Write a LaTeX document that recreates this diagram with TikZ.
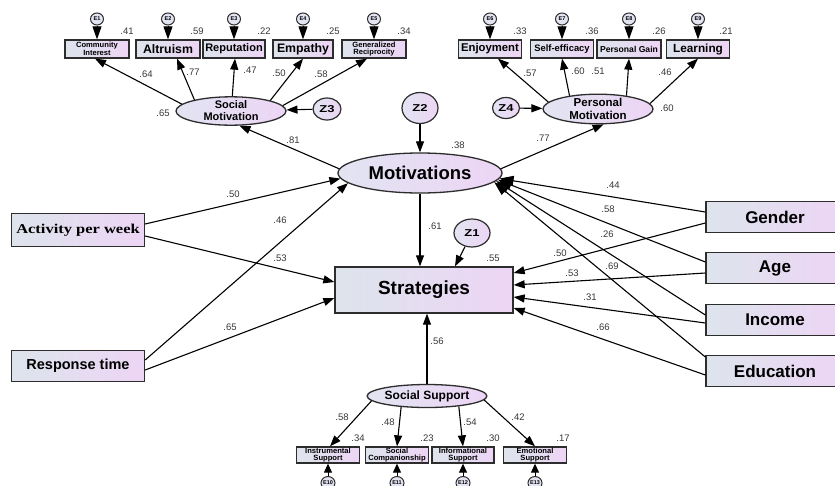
\documentclass[tikz,border=0pt]{standalone}
\usepackage{fontspec}
\setmainfont{Liberation Sans}
\newfontfamily\tnr{Liberation Serif}
\usepackage{graphicx}
\usetikzlibrary{shapes.geometric,arrows.meta,calc}

\definecolor{bxL}{RGB}{221,228,236}
\definecolor{bxR}{RGB}{237,213,245}
\definecolor{elL}{RGB}{226,228,242}
\definecolor{elR}{RGB}{237,213,245}
\definecolor{edgec}{RGB}{45,45,45}
\definecolor{numc}{RGB}{55,55,55}
\newcommand{\hs}[2]{\scalebox{#1}[1]{#2}}

\tikzset{
 obs/.style={draw=edgec, line width=1.3pt, left color=bxL, right color=bxR, inner sep=0pt, align=center, font=\bfseries},
 lat/.style={ellipse, draw=edgec, line width=1.3pt, left color=elL, right color=elR, inner sep=0pt, align=center, font=\bfseries},
 errc/.style={ellipse, draw=edgec, line width=1pt, fill=elL, inner sep=0pt, minimum width=13pt, minimum height=12pt, font=\bfseries\fontsize{5.5}{6}\selectfont},
 zc/.style={ellipse, draw=edgec, line width=1.2pt, left color=elL, right color=elR, inner sep=0pt, font=\bfseries\fontsize{10}{10}\selectfont},
 numl/.style={text=numc, font=\fontsize{9.5}{10}\selectfont, inner sep=0pt},
 arr/.style={draw, line width=1.1pt, -{Triangle[length=11pt,width=8pt]}},
 bigarr/.style={draw, line width=1.1pt, -{Triangle[length=14pt,width=10pt]}},
 errarr/.style={draw, line width=1pt, -{Triangle[length=13pt,width=9pt]}},
 errarrb/.style={draw, line width=1pt, -{Triangle[length=9pt,width=8pt]}},
 small/.style={font=\bfseries\fontsize{7.6}{7.8}\selectfont},
 mid/.style={font=\bfseries\fontsize{12.3}{13}\selectfont},
 big/.style={font=\bfseries\fontsize{17}{18}\selectfont},
}

\begin{document}
\begin{tikzpicture}[x=1pt,y=-1pt]
\fill[white] (0,0) rectangle (835,485);
\useasboundingbox (0,0) rectangle (835,485);

% ---------- top-left indicators ----------
\node[obs, small, minimum width=64pt, minimum height=18pt] (ci) at (97,49) {Community\\Interest};
\node[obs, mid, minimum width=64pt, minimum height=18pt] (alt) at (168,49) {Altruism};
\node[obs, font=\bfseries\fontsize{11}{12}\selectfont, minimum width=62pt, minimum height=18pt] (rep) at (234,49) {Reputation};
\node[obs, mid, minimum width=60pt, minimum height=18pt] (emp) at (303,49) {Empathy};
\node[obs, small, minimum width=64pt, minimum height=18pt] (gr) at (374,49) {Generalized\\Reciprocity};

\node[errc] (e1) at (97,19) {E1};
\node[errc] (e2) at (168,19) {E2};
\node[errc] (e3) at (234,19) {E3};
\node[errc] (e4) at (303,19) {E4};
\node[errc] (e5) at (374,19) {E5};

% ---------- top-right indicators ----------
\node[obs, font=\bfseries\fontsize{11.3}{12}\selectfont, minimum width=63pt, minimum height=18pt] (enj) at (490,49) {Enjoyment};
\node[obs, font=\bfseries\fontsize{9.4}{10}\selectfont, minimum width=63pt, minimum height=18pt] (se) at (562,49) {Self-efficacy};
\node[obs, font=\bfseries\fontsize{8.6}{9}\selectfont, minimum width=64pt, minimum height=18pt] (pg) at (629,49) {Personal Gain};
\node[obs, font=\bfseries\fontsize{11.8}{12}\selectfont, minimum width=63pt, minimum height=18pt] (lea) at (698,49) {Learning};

\node[errc] (e6) at (490,19) {E6};
\node[errc] (e7) at (562,19) {E7};
\node[errc] (e8) at (629,19) {E8};
\node[errc] (e9) at (698,19) {E9};

% ---------- latent variables ----------
\node[lat, font=\bfseries\fontsize{11}{12}\selectfont, minimum width=110pt, minimum height=28pt] (sm) at (231,111) {Social\\Motivation};
\node[lat, font=\bfseries\fontsize{11.5}{12.5}\selectfont, minimum width=110pt, minimum height=26pt] (pm) at (598,109) {Personal\\Motivation};
\node[lat, font=\bfseries\fontsize{18.5}{19}\selectfont, minimum width=164pt, minimum height=40pt] (mot) at (420,173) {Motivations};
\node[lat, font=\bfseries\fontsize{12}{13}\selectfont, minimum width=110pt, minimum height=23pt] (ss) at (427,396) {Social Support};

\node[zc, minimum width=28pt, minimum height=22pt] (z3) at (327,109) {\hs{1.3}{Z3}};
\node[zc, minimum width=27pt, minimum height=21pt] (z4) at (506,108) {\hs{1.3}{Z4}};
\node[zc, minimum width=36pt, minimum height=31pt] (z2) at (420,108) {\hs{1.3}{Z2}};
\node[zc, minimum width=36pt, minimum height=28pt] (z1) at (472,233) {\hs{1.3}{Z1}};

% ---------- central / exogenous boxes ----------
\node[obs, font=\bfseries\fontsize{19}{20}\selectfont, minimum width=178pt, minimum height=46pt] (strat) at (424,290) {Strategies};
\node[obs, font=\tnr\bfseries\fontsize{13.5}{14}\selectfont, minimum width=133pt, minimum height=33pt] (act) at (78,230) {\hs{1.22}{Activity per week}};
\node[obs, font=\bfseries\fontsize{14.5}{15}\selectfont, minimum width=133pt, minimum height=31pt] (resp) at (78,366) {Response time};
\node[obs, big, minimum width=138pt, minimum height=31pt] (gender) at (775,217) {Gender};
\node[obs, big, minimum width=138pt, minimum height=31pt] (age) at (775,268) {Age};
\node[obs, big, minimum width=138pt, minimum height=31pt] (income) at (775,320) {Income};
\node[obs, big, minimum width=138pt, minimum height=31pt] (edu) at (775,371) {Education};

% ---------- bottom indicators ----------
\node[obs, small, minimum width=63pt, minimum height=16pt] (is) at (328,455) {Instrumental\\Support};
\node[obs, small, minimum width=63pt, minimum height=16pt] (sc) at (397,455) {Social\\Companionship};
\node[obs, small, minimum width=62pt, minimum height=16pt] (inf) at (463,455) {Informational\\Support};
\node[obs, small, minimum width=63pt, minimum height=16pt] (emo) at (535,455) {Emotional\\Support};

\node[errc, minimum width=14pt, minimum height=13pt] (e10) at (328,483) {E10};
\node[errc, minimum width=14pt, minimum height=13pt] (e11) at (397,483) {E11};
\node[errc, minimum width=14pt, minimum height=13pt] (e12) at (463,483) {E12};
\node[errc, minimum width=14pt, minimum height=13pt] (e13) at (535,483) {E13};

% ---------- error arrows ----------
\foreach \e/\b in {e1/ci,e2/alt,e3/rep,e4/emp,e5/gr,e6/enj,e7/se,e8/pg,e9/lea}
  \draw[errarr] (\e) -- (\b.north);
\foreach \e/\b in {e10/is,e11/sc,e12/inf,e13/emo}
  \draw[errarrb] (\e) -- (\b.south);

% ---------- measurement arrows ----------
\draw[arr] (sm.172) -- ($(ci.south)+(-2,0)$);
\draw[arr] (sm.163) -- ($(alt.south)+(9,0)$);
\draw[arr] (sm.85) -- ($(rep.south)+(1,0)$);
\draw[arr] (sm.15) -- (emp.south);
\draw[arr] (sm.6) -- ($(gr.south)+(-7,0)$);

\draw[arr] (pm.172) -- ($(enj.south)+(8,0)$);
\draw[arr] (pm.155) -- (se.south);
\draw[arr] (pm.25) -- (pg.south);
\draw[arr] (pm.6) -- (lea.south);

\draw[arr] (z3) -- (sm);
\draw[arr] (z4) -- (pm);
\draw[arr] (z2) -- (mot);
\draw[arr] (z1) -- ($(strat.north)+(31,0)$);

\draw[arr] (mot.177) -- (sm.300);
\draw[arr] (mot.3) -- (pm.290);
\draw[arr] (mot.south) -- (mot.south |- strat.north);

\draw[arr] ($(act.east)+(0,-6)$) -- (mot.184);
\draw[arr] ($(act.east)+(0,6)$) -- ($(strat.west)+(0,-8)$);
\draw[arr] ($(resp.east)+(0,-6)$) -- (mot.188);
\draw[arr] ($(resp.east)+(0,4)$) -- ($(strat.west)+(0,8)$);

\draw[bigarr] ($(gender.west)+(0,-5)$) -- (mot.356);
\draw[bigarr] ($(age.west)+(0,-6)$) -- (mot.355);
\draw[bigarr] ($(income.west)+(0,-5)$) -- (mot.354);
\draw[bigarr] ($(edu.west)+(0,-14)$) -- (mot.353);
\draw[arr] ($(gender.west)+(0,6)$) -- ($(strat.east)+(0,-17)$);
\draw[arr] ($(age.west)+(0,5)$) -- ($(strat.east)+(0,-5)$);
\draw[arr] ($(income.west)+(0,3)$) -- ($(strat.east)+(0,7)$);
\draw[arr] ($(edu.west)+(0,4)$) -- ($(strat.east)+(0,18)$);

\draw[arr] (ss.north) -- (ss.north |- strat.south);
\draw[arr] (ss.185) -- ($(is.north)+(2,0)$);
\draw[arr] (ss.203) -- (sc.north);
\draw[arr] (ss.342) -- (inf.north);
\draw[arr] (ss.356) -- (emo.north);

% ---------- numeric labels ----------
\node[numl] (r1) at (127,31) {.41};
\node[numl] (r2) at (197,31) {.59};
\node[numl] (r3) at (264,31) {.22};
\node[numl] (r4) at (333,31) {.25};
\node[numl] (r5) at (404,31) {.34};
\node[numl] (r6) at (520,31) {.33};
\node[numl] (r7) at (592,31) {.36};
\node[numl] (r8) at (659,31) {.26};
\node[numl] (r9) at (726,31) {.21};

\node[numl] (l1) at (146,74) {.64};
\node[numl] (l2) at (193,72) {.77};
\node[numl] (l3) at (250,70) {.47};
\node[numl] (l4) at (279,73) {.50};
\node[numl] (l5) at (321,74) {.58};
\node[numl] (l6) at (530,73) {.57};
\node[numl] (l7) at (578,71) {.60};
\node[numl] (l8) at (598,71) {.51};
\node[numl] (l9) at (665,72) {.46};

\node[numl] (rsm) at (163,113) {.65};
\node[numl] (rpm) at (667,108) {.60};
\node[numl] (p81) at (293,140) {.81};
\node[numl] (rmot) at (458,145) {.38};
\node[numl] (p77) at (543,138) {.77};

\node[numl] (p50a) at (233,194) {.50};
\node[numl] (p46) at (280,220) {.46};
\node[numl] (p53a) at (280,258) {.53};
\node[numl] (p65) at (230,327) {.65};

\node[numl] (p61) at (435,226) {.61};
\node[numl] (rstr) at (493,258) {.55};

\node[numl] (p44) at (613,185) {.44};
\node[numl] (p58) at (608,209) {.58};
\node[numl] (p26) at (607,234) {.26};
\node[numl] (p69) at (612,266) {.69};
\node[numl] (p50b) at (560,253) {.50};
\node[numl] (p53b) at (572,273) {.53};
\node[numl] (p31) at (590,297) {.31};
\node[numl] (p66) at (603,327) {.66};

\node[numl] (p56) at (437,341) {.56};

\node[numl] (b1) at (342,417) {.58};
\node[numl] (b2) at (388,422) {.48};
\node[numl] (b3) at (470,422) {.54};
\node[numl] (b4) at (518,417) {.42};
\node[numl] (rb1) at (358,438) {.34};
\node[numl] (rb2) at (427,438) {.23};
\node[numl] (rb3) at (493,438) {.30};
\node[numl] (rb4) at (563,438) {.17};
\end{tikzpicture}
\end{document}
